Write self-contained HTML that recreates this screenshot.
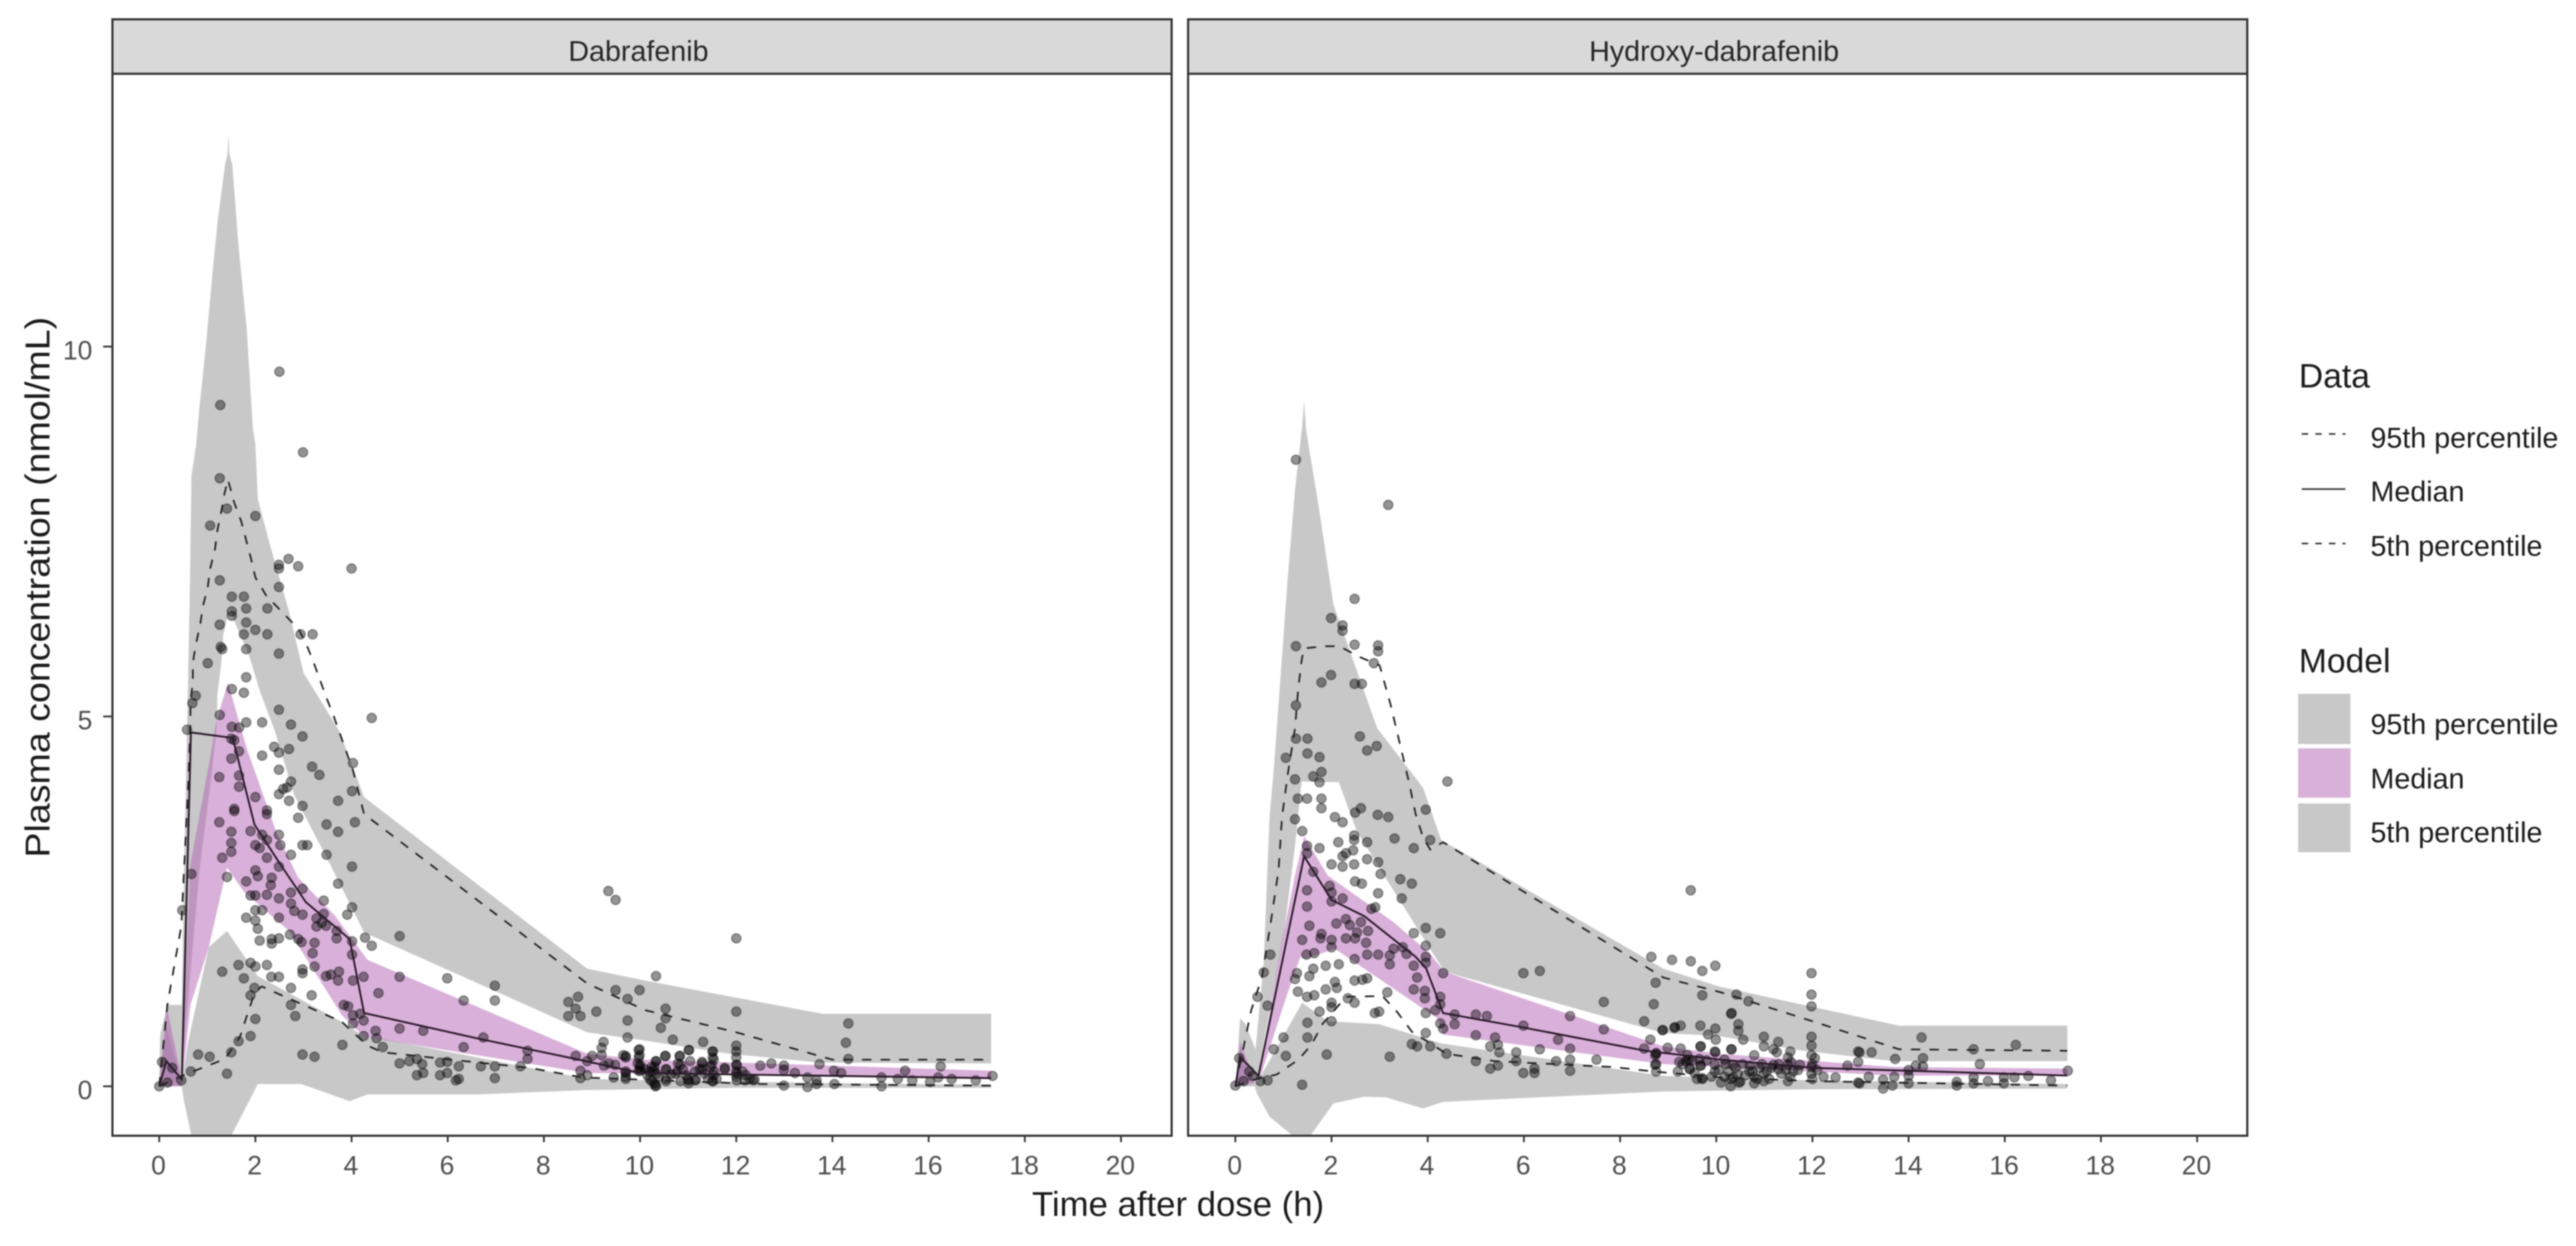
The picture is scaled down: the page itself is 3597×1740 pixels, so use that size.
<!DOCTYPE html>
<html>
<head>
<meta charset="utf-8">
<title>Plasma concentration vs time after dose</title>
<style>
html,body{margin:0;padding:0;background:#fff;}
svg{display:block;filter:blur(0.7px);}
text{font-family:"Liberation Sans",sans-serif;}
</style>
</head>
<body>
<svg id="chart" xmlns="http://www.w3.org/2000/svg" width="3597" height="1740" viewBox="0 0 3597 1740">
  <rect x="0" y="0" width="3597" height="1740" fill="#ffffff"/>
  <defs>
    <clipPath id="clip-dab"><rect x="157" y="103" width="1479" height="1483"/></clipPath>
    <clipPath id="clip-hyd"><rect x="1659" y="103" width="1479" height="1483"/></clipPath>
  </defs>
  <g id="panel-dab"></g>
  <g id="panel-hyd"></g>

  <text transform="translate(69,820) rotate(-90)" text-anchor="middle" font-size="48" textLength="755" lengthAdjust="spacingAndGlyphs" fill="#1a1a1a">Plasma concentration (nmol/mL)</text>
  <text x="1645" y="1698" text-anchor="middle" font-size="48.5" fill="#1a1a1a">Time after dose (h)</text>

  <g>
    <text x="3210" y="541" font-size="47" fill="#1a1a1a">Data</text>
    <line x1="3214" y1="606" x2="3275" y2="606" stroke="#333" stroke-width="2.2" stroke-dasharray="9 10"/>
    <text x="3310" y="625" font-size="40" fill="#1a1a1a">95th percentile</text>
    <line x1="3214" y1="683" x2="3275" y2="683" stroke="#333" stroke-width="2.2"/>
    <text x="3310" y="700" font-size="40" fill="#1a1a1a">Median</text>
    <line x1="3214" y1="759" x2="3275" y2="759" stroke="#333" stroke-width="2.2" stroke-dasharray="9 10"/>
    <text x="3310" y="776" font-size="40" fill="#1a1a1a">5th percentile</text>
  </g>
  <g>
    <text x="3210" y="939" font-size="47" fill="#1a1a1a">Model</text>
    <rect x="3209" y="969" width="73" height="70" fill="#c8c8c8"/>
    <text x="3310" y="1025" font-size="40" fill="#1a1a1a">95th percentile</text>
    <rect x="3209" y="1045" width="73" height="69" fill="#d8b0d8"/>
    <text x="3310" y="1101" font-size="40" fill="#1a1a1a">Median</text>
    <rect x="3209" y="1122" width="73" height="68" fill="#c8c8c8"/>
    <text x="3310" y="1176" font-size="40" fill="#1a1a1a">5th percentile</text>
  </g>
</svg>

<script>
// ---- axis data ----
const xTickValues = [0, 2, 4, 6, 8, 10, 12, 14, 16, 18, 20];
const yTickValues = [0, 5, 10];

// ---- Dabrafenib model ribbons ----
const dabP95HiT = [0, 0.02, 0.17, 0.47, 0.52, 0.58, 0.64, 0.67, 0.77, 0.83, 0.97, 1.11, 1.22, 1.37, 1.42, 1.44, 1.46, 1.52, 1.65, 1.82, 1.95, 2.0, 2.05, 2.3, 2.7, 3.0, 3.74, 4.26, 8.9, 10.1, 13.8, 17.3];
const dabP95HiV = [0, 0.7, 1.1, 1.1, 3, 4.82, 6.81, 8.25, 8.68, 9.13, 10, 11, 11.72, 12.46, 12.6, 12.87, 12.6, 12.46, 11.35, 10.24, 8.88, 8.68, 7.94, 7.33, 6.42, 5.59, 4.81, 3.91, 1.59, 1.43, 0.98, 0.98];
const dabP95LoT = [0, 0.3, 0.47, 0.84, 1.1, 1.19, 1.21, 1.29, 1.33, 1.46, 1.6, 1.86, 2.1, 2.4, 2.81, 3.5, 4.26, 8.9, 10.1, 11.84, 13.75, 17.3];
const dabP95LoV = [0, 0, 0.2, 2.94, 4.27, 4.81, 5.3, 5.71, 6.1, 6.46, 6.23, 5.84, 5.33, 4.81, 3.93, 3.07, 2.08, 0.73, 0.62, 0.44, 0.32, 0.31];

const dabMedHiT = [0, 0.15, 0.47, 0.56, 0.65, 1.06, 1.18, 1.43, 1.7, 1.83, 2.44, 2.89, 3.65, 4.33, 8.9, 10.1, 17.3];
const dabMedHiV = [0, 1.1, 0.09, 1.7, 3.0, 4.45, 4.91, 5.46, 4.84, 4.55, 3.43, 2.82, 2.31, 1.71, 0.44, 0.36, 0.21];
const dabMedLoT = [0, 0.47, 0.65, 1.03, 1.41, 1.76, 2.7, 3.8, 4.26, 8.9, 17.3];
const dabMedLoV = [0, 0, 1.1, 1.88, 2.96, 2.63, 2.1, 0.96, 0.67, 0.18, 0.11];

const dabP5HiT = [0, 0.15, 0.47, 0.6, 1.03, 1.41, 2.05, 3.8, 4.26, 4.65, 8.9, 12, 17.3];
const dabP5HiV = [0, 0.8, 0.05, 0.6, 1.88, 2.1, 1.49, 0.87, 0.67, 0.64, 0.1, 0.06, 0.02];
const dabP5LoT = [0, 0.47, 0.5, 0.66, 1.1, 1.52, 2.05, 2.96, 3.96, 4.33, 6.6, 8.9, 12, 17.3];
const dabP5LoV = [0, 0, -0.15, -0.64, -1.5, -0.64, 0.03, 0.03, -0.2, -0.11, -0.11, -0.05, -0.02, -0.02];

// ---- Dabrafenib observed percentile lines ----
const dabLine95T = [0, 0.17, 0.46, 0.61, 0.65, 0.65, 0.7, 0.7, 0.76, 0.85, 0.91, 1.01, 1.06, 1.16, 1.21, 1.28, 1.36, 1.43, 1.56, 1.71, 1.81, 1.91, 2.0, 2.23, 2.53, 2.9, 3.05, 3.2, 3.34, 3.48, 3.63, 4.03, 4.26, 8.9, 10.1, 12, 14, 17.3];
const dabLine95V = [0, 1.1, 2.17, 4.18, 4.94, 5.2, 5.46, 5.72, 5.97, 6.23, 6.49, 6.75, 7, 7.26, 7.52, 7.73, 8.02, 8.2, 7.89, 7.63, 7.38, 7.13, 6.88, 6.63, 6.43, 6.18, 5.99, 5.75, 5.5, 5.25, 5.0, 4.27, 3.68, 1.39, 1.03, 0.73, 0.36, 0.36];
const dabLineMedT = [0, 0.15, 0.47, 0.66, 0.7, 1.53, 1.98, 2.52, 3.05, 3.96, 4.26, 6.6, 8.8, 10, 12, 17.3];
const dabLineMedV = [0, 0.34, 0.09, 4.78, 4.78, 4.71, 3.54, 3.0, 2.49, 1.99, 0.99, 0.65, 0.35, 0.18, 0.16, 0.11];
const dabLine5T = [0, 0.46, 1.37, 1.68, 1.98, 2.13, 3.8, 4.33, 4.65, 6.2, 7.7, 8.8, 12.5, 17.3];
const dabLine5V = [0, 0.14, 0.37, 0.67, 1.26, 1.35, 0.87, 0.55, 0.46, 0.35, 0.25, 0.12, 0.03, 0.01];

// ---- Dabrafenib observations ----
const dabObsTime = [
1.27,2.5,2.99,1.26,1.41,2.0,1.06,2.69,2.89,2.49,2.49,4.0,1.26,2.49,1.51,1.76,1.81,2.25,1.51,1.51,
1.81,1.26,2.0,1.76,2.25,2.94,3.19,1.28,1.31,1.81,2.49,1.01,1.81,1.51,1.76,0.76,0.69,2.49,1.26,1.81,
2.14,2.74,4.42,0.58,1.51,1.66,
2.98,2.39,2.49,2.7,2.14,1.5,1.56,1.66,1.5,1.25,
1.66,1.66,2.49,3.18,3.33,4.03,2.74,2.66,2.58,2.49,
2.7,2.0,2.24,2.24,1.56,1.56,2.98,3.72,4.01,2.89,
3.48,4.07,3.72,1.25,1.5,1.9,2.14,2.49,2.0,2.09,
2.24,1.5,1.5,2.52,2.98,3.08,3.48,2.74,1.31,2.24,
2.49,4.01,0.67,1.41,2.0,2.05,1.81,2.34,2.32,2.24,
3.72,2.98,2.74,1.9,2.0,2.49,3.42,2.74,4.01,2.0,
2.14,0.48,3.91,2.81,2.98,1.81,2.49,3.42,3.27,2.0,
2.05,3.38,3.27,3.47,3.69,2.72,3.69,5.0,4.28,4.42,
2.09,2.34,2.34,2.49,2.89,2.96,3.23,4.01,4.01,3.19,
0,0.17,0.06,0.27,0.46,0.66,0.81,1.05,1.41,1.5,1.65,1.9,2.0,1.31,1.65,1.76,1.9,2.0,2.24,2.33,
2.49,1.9,1.98,2.74,3.17,2.74,2.83,2.98,3.23,3.81,3.84,3.93,4.03,4.03,4.18,4.25,4.25,4.5,4.52,4.65,
4.56,4.25,4.03,3.72,3.57,3.47,3.74,2.98,2.98,3.23,
5,5.99,6.98,6.98,6.33,5,5.49,6.33,6.74,7.66,
7.66,5,5.2,5.36,5.47,5.36,5.49,5.84,5.99,5.84,
5.99,6.23,6.23,6.17,6.69,6.98,6.98,7.51,
9.34,9.49,12,10.33,9.49,9.99,9.74,8.71,8.51,8.66,
8.76,8.51,9.09,10.53,10.53,10.43,12,9.74,9.74,10.68,
11.31,9.24,9.2,9.99,9.99,11.02,11.51,11.51,12,12,
12,10.53,10.83,9.7,9.2,9.0,8.66,8.9,10.33,12.5,
12.73,9.25,9.35,9.48,8.76,8.9,8.76,9.45,
9.7,9.7,10,10,10.2,10.3,10.34,10.2,10.3,10.33,
10.54,10.54,10.74,10.84,10.99,11.01,11.29,11.29,11.49,11.54,
11.59,12,12,12,12.13,12.28,12.38,11.76,11.16,10.84,11.51,
14.33,14.28,14.33,13.73,14.03,14.18,12.99,12.99,12.99,13.22,
13.48,13.48,13.67,13.67,15.02,15.02,15.36,15.51,15.66,16.03,
16.2,16.25,16.48,16.98,17.33,14.04,
9.7,9.65,9.97,9.97,10.0,9.97,9.7,9.7,10.15,10.29,
10.33,10.32,10.24,10.52,10.54,10.54,10.82,10.79,10.77,11.01,
11.04,11.01,10.96,11.14,11.29,11.24,11.34,11.51,11.53,11.46,
11.53,11.51,11.76,12.01,12.01,12.01,12.2,12.18,12.35,
10.1,10.39,10.64,10.89,11.14,11.41,9.95,10.24];
const dabObsConc = [
9.21,9.66,8.57,8.22,7.81,7.71,7.58,7.13,7.03,7.0,7.05,7.0,6.84,6.75,6.62,6.62,6.46,6.46,6.42,6.36,
6.27,6.24,6.17,6.11,6.11,6.11,6.11,5.94,5.91,5.91,5.85,5.72,5.53,5.37,5.32,5.28,5.18,5.09,5.02,4.92,
4.92,4.89,4.98,4.82,4.86,4.85,
4.73,4.59,4.51,4.56,4.47,4.7,4.68,4.53,4.43,4.18,
4.2,4.05,4.28,4.32,4.21,4.37,4.12,4.04,4.02,3.95,
3.86,3.91,3.73,3.68,3.75,3.72,3.79,3.86,3.99,3.63,
3.54,3.57,3.44,3.57,3.44,3.45,3.4,3.4,3.26,3.22,
3.33,3.29,3.17,3.26,3.26,3.26,3.13,3.13,3.09,3.09,
2.97,2.97,2.87,2.83,2.92,2.84,2.77,2.82,2.72,2.59,
2.74,2.67,2.62,2.58,2.58,2.54,2.51,2.47,2.42,2.38,
2.38,2.38,2.32,2.37,2.32,2.28,2.28,2.33,2.27,2.24,
2.13,2.21,2.16,2.17,2.1,2.05,2.0,2.03,2.01,1.9,
1.97,1.99,1.93,2.0,1.99,1.95,1.94,1.96,1.78,1.8,
0,0.05,0.33,0.25,0.08,0.2,0.43,0.4,0.17,0.46,0.61,0.68,0.91,1.55,1.64,1.46,1.67,1.62,1.64,1.48,
1.48,1.23,1.33,1.33,1.23,1.1,0.95,0.43,0.4,0.56,1.1,1.08,0.96,0.85,0.98,0.89,0.68,0.75,0.65,0.53,
1.26,1.48,1.43,1.43,1.51,1.49,1.55,1.58,1.53,1.62,
1.48,1.46,1.36,1.16,1.16,0.78,0.75,0.53,0.66,0.48,
0.37,0.31,0.34,0.37,0.3,0.15,0.18,0.32,0.33,0.15,
0.18,0.27,0.1,0.08,0.27,0.27,0.11,0.27,
2.64,2.52,2.0,1.49,1.3,1.3,1.18,1.21,1.14,1.05,
0.95,0.95,1.01,1.05,0.92,0.79,1.01,0.89,0.66,0.63,
0.6,0.6,0.52,0.5,0.42,0.49,0.47,0.39,0.55,0.47,
0.39,0.41,0.41,0.41,0.42,0.41,0.41,0.34,0.34,0.28,
0.31,0.28,0.31,0.29,0.21,0.15,0.11,0.12,
0.2,0.13,0.29,0.21,0.2,0.26,0.17,0.1,0.04,0.01,
0.23,0.1,0.17,0.29,0.1,0.04,0.33,0.23,0.29,0.2,
0.1,0.29,0.2,0.13,0.2,0.1,0.09,0.23,0.09,0.07,0.07,
0.85,0.59,0.37,0.3,0.21,0.18,0.28,0.22,0.01,0.18,
0.12,-0.01,0.08,0.03,0.12,0,0.1,0.21,0.08,0.06,
0.12,0.27,0.1,0.08,0.14,0.03,
0.39,0.42,0.49,0.39,0.26,0.21,0.18,0.1,0.15,0.21,
0.34,0,0.07,0.41,0.23,0.07,0.41,0.31,0.2,0.49,
0.34,0.08,0.15,0.08,0.31,0.23,0.17,0.47,0.36,0.26,
0.15,0.07,0.25,0.29,0.17,0.08,0.15,0.08,0.08,
0.23,0.13,0.16,0.23,0.2,0.1,0.31,0.26];

// ---- Hydroxy-dabrafenib model ribbons ----
const hydP95HiT = [0, 0.1, 0.2, 0.42, 0.59, 0.71, 0.8, 1.09, 1.24, 1.39, 1.43, 1.47, 1.74, 2.04, 2.95, 3.9, 4.28, 8.9, 10.05, 13.8, 17.3];
const hydP95HiV = [0, 0.92, 0.85, 0.5, 1.67, 3.64, 4.29, 6.88, 8.07, 8.92, 9.27, 8.88, 7.81, 6.51, 4.84, 4.04, 3.33, 1.59, 1.35, 0.82, 0.82];
const hydP95LoT = [0, 0.45, 1.01, 1.24, 1.35, 1.38, 2.15, 2.53, 3.21, 3.97, 4.35, 8.9, 10.05, 11.8, 13.7, 17.3];
const hydP95LoV = [0, 0.1, 2.06, 3.25, 3.96, 4.12, 4.11, 3.44, 2.73, 1.94, 1.55, 0.72, 0.68, 0.48, 0.34, 0.34];

const hydMedHiT = [0, 0.1, 0.42, 0.48, 0.93, 1.24, 1.43, 1.92, 3.29, 4.05, 4.35, 8.9, 10.05, 13.7, 17.3];
const hydMedHiV = [0, 0.6, 0.02, 0.08, 1.83, 2.85, 3.38, 2.85, 2.22, 1.79, 1.55, 0.54, 0.44, 0.26, 0.24];
const hydMedLoT = [0, 0.48, 1.09, 1.35, 1.45, 2.07, 4.2, 4.32, 8.9, 13.7, 17.3];
const hydMedLoV = [0, 0.05, 1.27, 1.75, 1.72, 1.86, 0.92, 0.7, 0.3, 0.145, 0.145];

const hydP5HiT = [0, 0.1, 0.42, 0.8, 1.39, 1.92, 2.99, 4.28, 8.9, 12, 17.3];
const hydP5HiV = [0, 0.5, 0.02, 0.45, 1.13, 0.88, 0.84, 0.58, 0.14, 0.08, 0.03];
const hydP5LoT = [0, 0.4, 0.45, 0.71, 1.16, 1.37, 1.58, 2.04, 2.68, 3.14, 3.9, 4.32, 8.9, 12, 17.3];
const hydP5LoV = [0, 0, -0.1, -0.41, -0.65, -0.75, -0.65, -0.23, -0.14, -0.15, -0.3, -0.21, -0.07, -0.04, -0.03];

// ---- Hydroxy-dabrafenib observed percentile lines ----
const hydLine95T = [0, 0.33, 0.55, 0.72, 0.9, 0.97, 1.09, 1.24, 1.31, 1.38, 1.43, 1.85, 2.16, 2.6, 3.0, 3.22, 3.41, 3.6, 3.75, 3.9, 4.05, 4.32, 8.9, 10.1, 12, 13.8, 17.3];
const hydLine95V = [0, 1.03, 1.47, 2.14, 2.93, 3.64, 4.22, 4.84, 5.4, 5.77, 5.92, 5.95, 5.95, 5.8, 5.69, 5.18, 4.66, 4.14, 3.68, 3.37, 3.2, 3.3, 1.47, 1.27, 0.88, 0.5, 0.48];
const hydLineMedT = [0, 0.1, 0.48, 1.43, 2.0, 2.68, 3.75, 3.97, 4.32, 5.95, 8.53, 10.1, 12, 17.3];
const hydLineMedV = [0, 0.4, 0.14, 3.11, 2.52, 2.3, 1.75, 1.59, 0.99, 0.8, 0.48, 0.36, 0.25, 0.145];
const hydLine5T = [0, 0.45, 0.86, 1.31, 1.58, 1.81, 2.3, 3.06, 3.37, 3.67, 4.39, 5.4, 7.85, 8.7, 9.4, 10, 12, 17.3];
const hydLine5V = [0, 0.1, 0.16, 0.36, 0.56, 0.84, 1.21, 1.22, 1.0, 0.74, 0.44, 0.34, 0.26, 0.2, 0.16, 0.125, 0.07, 0.01];

// ---- Hydroxy-dabrafenib observations ----
const hydObsTime = [
1.26,3.18,2.48,1.99,2.23,2.23,1.26,2.48,2.97,2.97,
2.88,1.99,1.79,2.48,2.63,1.26,1.26,1.5,2.59,2.94,
2.74,1.5,1.75,1.05,1.79,1.62,1.24,1.75,4.41,
1.3,1.49,1.79,1.79,2.61,2.49,2.07,2.23,2.96,3.18,
3.96,1.24,1.39,2.47,2.47,2.74,3.31,4.05,2.14,1.75,
3.71,1.49,1.49,2.45,2.3,2.23,2.74,2.97,2.0,2.23,
2.47,1.62,3.02,3.43,3.67,2.49,2.63,1.96,2.0,1.49,
2.97,3.46,2.23,2.0,1.49,2.91,2.83,2.3,2.38,2.61,
1.54,2.1,3.71,3.96,4.26,2.53,2.76,1.79,1.39,1.77,
2.0,2.0,2.3,2.49,2.72,3.96,3.48,3.29,3.56,0.73,
1.48,1.64,2.15,1.88,2.48,2.74,2.97,3.21,3.21,3.71,
3.96,3.96,0.59,4.32,1.62,1.54,1.28,1.24,5.99,6.33,
3.78,3.71,2.48,2.64,2.74,2.07,1.88,2.11,1.3,1.49,
1.64,0.46,3.94,3.94,3.16,2.34,2.48,2.0,2.0,0.67,
4.26,4.26,7.66,1.75,2.9,2.99,3.96,4.16,4.56,5,
5.23,6.96,2.0,1.5,4.26,4.32,4.56,5.99,7.66,3.96,
5,1.0,1.5,5.4,6.71,3.67,3.78,4.05,5.3,5.46,
0.8,6.96,6.33,5.49,5.84,4.39,1.05,1.9,3.21,6.96,
7.51,5,5.84,6.67,5.46,5.3,6.22,6.22,5.99,6.96,
1.39,0,0.17,0.52,0.67,0.08,0.29,0.36,
8.65,9.08,9.47,9.71,9.98,9.47,8.74,8.7,9.71,8.5,
8.89,9.14,9.26,8.63,8.5,8.99,9.26,8.75,8.75,9.67,
9.98,9.83,9.99,10.32,9.67,9.98,10.32,9.71,9.37,9.67,9.45,
10.42,10.67,10.31,11.98,11.98,11.98,10.46,10.46,10.56,10.99,
10.99,11.29,11.19,11.26,11.54,11.49,11.98,11.98,11.98,10.79,
10.31,9.97,9.68,9.13,8.88,
8.73,8.73,9.23,9.43,9.45,9.68,9.97,9.97,10.17,10.17,
10.3,10.35,10.45,10.47,10.69,10.79,10.99,10.99,10.79,11.19,
11.29,11.49,11.54,11.74,11.98,11.98,12.23,12.48,12.95,12.95,
12.95,12.73,9.71,11.49,
12.98,13.23,13.72,14.27,14.3,14.3,14.15,15.35,15.48,16.23,
17.31,14,14,14,13.47,13.47,13.7,13.66,13.17,12.98,
15,15,15.35,15.35,15.65,15.98,15.98,16.2,16.49,16.96,
10.2,10.25,10.3,10.4,10.35,10.55,10.6,10.5,10.7,10.75,
10.9,10.85,10.95,11.05,11.1,11.15,11.3,11.35,11.45,11.6,
11.55,11.7,12.0,12.0,12.1,9.4,9.3,9.5,9.55,9.6,
9.65,9.8,9.9,10.05,10.1,8.75,8.75,9.2,12.05];
const hydObsConc = [
8.47,7.86,6.59,6.33,6.23,6.16,5.95,5.97,5.96,5.88,
5.72,5.56,5.46,5.44,5.44,5.15,4.7,4.7,4.73,4.6,
4.54,4.5,4.45,4.44,4.25,4.19,4.15,4.11,4.12,
3.89,3.89,3.89,3.76,3.76,3.7,3.64,3.57,3.67,3.64,
3.74,3.61,3.45,3.39,3.33,3.3,3.35,3.33,3.3,3.22,
3.22,3.25,3.15,3.19,3.15,3.11,3.07,3.03,3.0,2.97,
3.0,2.9,2.87,2.8,2.74,2.77,2.74,2.71,2.62,2.65,
2.61,2.54,2.54,2.5,2.43,2.42,2.4,2.26,2.18,2.22,
2.17,2.2,2.07,2.14,2.07,2.08,2.1,2.06,1.98,2.0,
1.98,1.88,2.0,2.0,1.94,1.9,1.88,1.86,1.79,1.78,
1.78,1.8,1.65,1.63,1.72,1.78,1.78,1.77,1.65,1.63,
1.75,1.67,1.54,1.53,1.59,1.49,1.53,1.45,1.53,1.56,
1.47,1.31,1.43,1.44,1.46,1.41,1.31,1.33,1.28,1.21,
1.23,1.21,1.29,1.19,1.27,1.19,1.13,1.13,1.07,1.09,
1.21,1.11,1.14,1.01,0.99,1.01,0.99,1.03,0.97,0.97,
0.95,0.95,0.88,0.86,0.85,0.78,0.84,0.82,0.77,0.72,
0.69,0.66,0.66,0.66,0.63,0.57,0.54,0.54,0.54,0.56,
0.5,0.51,0.5,0.46,0.46,0.44,0.41,0.43,0.4,0.36,
0.36,0.34,0.34,0.34,0.28,0.24,0.24,0.18,0.18,0.21,
0.02,0.01,0.07,0.07,0.08,0.38,0.2,0.14,
1.75,1.71,1.69,1.56,1.63,2.65,1.4,1.11,1.23,0.88,
0.76,0.8,0.82,0.63,0.51,0.52,0.51,0.44,0.3,0.82,
0.78,0.7,0.63,0.99,0.54,0.46,0.5,0.1,0.34,0.28,0.24,
1.24,1.15,0.98,1.53,1.24,1.08,0.84,0.75,0.63,0.67,
0.54,0.6,0.5,0.46,0.47,0.39,0.67,0.55,0.42,0.42,
0.5,0.47,0.54,0.79,0.76,
0.42,0.29,0.33,0.36,0.23,0.28,0.29,0.2,0.36,0.13,
0,0.29,0.17,0.05,0.2,0.13,0.17,0.07,0.04,0.29,
0.23,0.29,0.13,0.29,0.26,0.17,0.13,0.12,0.47,0.33,
0.05,0.28,0.11,0.07,
0.46,0.46,0.37,0.66,0.38,0.27,0.28,0.5,0.3,0.56,
0.21,0.22,0.14,0.04,0.09,-0.03,0.13,0.01,0.13,0.04,
0.06,0.01,0.12,0.04,0.07,0.12,0.04,0.12,0.14,0.08,
0.3,0.2,0.1,0.25,0.12,0.3,0.15,0.06,0.28,0.2,
0.25,0.1,0.3,0.2,0.1,0.25,0.3,0.17,0.22,0.2,
0.33,0.22,0.3,0.1,0.22,0.42,0.3,0.35,0.18,0.1,
0.37,0.35,0.13,0.22,0.05,0.2,0.45,0.2,0.38];

// ---- scales and drawing ----
const SVGNS = 'http://www.w3.org/2000/svg';
const PANEL_TOP = 103;
const PANEL_BOTTOM = 1586;
const STRIP_TOP = 27;
const PX_PER_HOUR = 67.15;
const PX_PER_UNIT = 103.3;
const Y_ZERO = 1517;

function yScale(v) { return Y_ZERO - v * PX_PER_UNIT; }
function makeXScale(x0) { return function (t) { return x0 + t * PX_PER_HOUR; }; }
function pathFrom(ts, vs, xs) {
  let d = '';
  for (let i = 0; i < ts.length; i++) {
    d += (i ? 'L' : 'M') + xs(ts[i]).toFixed(1) + ' ' + yScale(vs[i]).toFixed(1);
  }
  return d;
}
function ribbonPath(hiT, hiV, loT, loV, xs) {
  let d = pathFrom(hiT, hiV, xs);
  for (let i = loT.length - 1; i >= 0; i--) {
    d += 'L' + xs(loT[i]).toFixed(1) + ' ' + yScale(loV[i]).toFixed(1);
  }
  return d + 'Z';
}
function el(tag, parent) {
  const e = document.createElementNS(SVGNS, tag);
  parent.appendChild(e);
  return e;
}

function drawPanel(cfg) {
  const root = document.getElementById(cfg.rootId);
  const xs = makeXScale(cfg.xZero);
  const width = cfg.right - cfg.left;

  const strip = el('rect', root);
  
  
  strip.setAttribute('x', cfg.left);
  strip.setAttribute('y', STRIP_TOP);
  strip.setAttribute('width', width);
  strip.setAttribute('height', PANEL_TOP - STRIP_TOP);
  strip.setAttribute('fill', '#d9d9d9');
  strip.setAttribute('stroke', '#333333');
  strip.setAttribute('stroke-width', '3');

  const stripText = el('text', root);
  
  
  stripText.setAttribute('x', (cfg.left + cfg.right) / 2 - 5);
  stripText.setAttribute('y', 85);
  stripText.setAttribute('text-anchor', 'middle');
  stripText.setAttribute('font-size', '40');
  stripText.setAttribute('fill', '#262626');
  stripText.textContent = cfg.title;

  const plot = el('g', root);
  
  
  plot.setAttribute('clip-path', 'url(#' + cfg.clipId + ')');

  const r95 = el('path', plot);
  
  
  r95.setAttribute('d', ribbonPath(cfg.p95HiT, cfg.p95HiV, cfg.p95LoT, cfg.p95LoV, xs));
  r95.setAttribute('fill', '#919191');
  r95.setAttribute('fill-opacity', '0.5');

  const r5 = el('path', plot);
  
  
  r5.setAttribute('d', ribbonPath(cfg.p5HiT, cfg.p5HiV, cfg.p5LoT, cfg.p5LoV, xs));
  r5.setAttribute('fill', '#919191');
  r5.setAttribute('fill-opacity', '0.5');

  const rMed = el('path', plot);
  
  
  rMed.setAttribute('d', ribbonPath(cfg.medHiT, cfg.medHiV, cfg.medLoT, cfg.medLoV, xs));
  rMed.setAttribute('fill', '#b361b3');
  rMed.setAttribute('fill-opacity', '0.5');

  const n = Math.min(cfg.obsT.length, cfg.obsC.length);
  for (let i = 0; i < n; i++) {
    const c = el('circle', plot);
    
    
    c.setAttribute('cx', xs(cfg.obsT[i]).toFixed(1));
    c.setAttribute('cy', yScale(cfg.obsC[i]).toFixed(1));
    c.setAttribute('r', '6.5');
    c.setAttribute('fill', '#000000');
    c.setAttribute('fill-opacity', '0.42');
    c.setAttribute('stroke', '#000000');
    c.setAttribute('stroke-opacity', '0.4');
    c.setAttribute('stroke-width', '1.6');
  }

  const l95 = el('path', plot);
  
  
  l95.setAttribute('d', pathFrom(cfg.l95T, cfg.l95V, xs));
  l95.setAttribute('fill', 'none');
  l95.setAttribute('stroke', '#222222');
  l95.setAttribute('stroke-width', '2.4');
  l95.setAttribute('stroke-dasharray', '13 13');

  const lMed = el('path', plot);
  
  
  lMed.setAttribute('d', pathFrom(cfg.lMedT, cfg.lMedV, xs));
  lMed.setAttribute('fill', 'none');
  lMed.setAttribute('stroke', '#2a1a2a');
  lMed.setAttribute('stroke-width', '2.6');

  const l5 = el('path', plot);
  
  
  l5.setAttribute('d', pathFrom(cfg.l5T, cfg.l5V, xs));
  l5.setAttribute('fill', 'none');
  l5.setAttribute('stroke', '#222222');
  l5.setAttribute('stroke-width', '2.4');
  l5.setAttribute('stroke-dasharray', '13 13');

  const border = el('rect', root);
  
  
  border.setAttribute('x', cfg.left);
  border.setAttribute('y', PANEL_TOP);
  border.setAttribute('width', width);
  border.setAttribute('height', PANEL_BOTTOM - PANEL_TOP);
  border.setAttribute('fill', 'none');
  border.setAttribute('stroke', '#333333');
  border.setAttribute('stroke-width', '3');

  xTickValues.forEach(function (t) {
    const tick = el('line', root);
    
    
    tick.setAttribute('x1', xs(t));
    tick.setAttribute('x2', xs(t));
    tick.setAttribute('y1', PANEL_BOTTOM);
    tick.setAttribute('y2', PANEL_BOTTOM + 9);
    tick.setAttribute('stroke', '#333333');
    tick.setAttribute('stroke-width', '2.5');
    const lab = el('text', root);
    
    
    lab.setAttribute('x', xs(t) - 1);
    lab.setAttribute('y', 1640);
    lab.setAttribute('text-anchor', 'middle');
    lab.setAttribute('font-size', '37');
    lab.setAttribute('fill', '#4d4d4d');
    lab.textContent = String(t);
  });

  if (cfg.showY) {
    yTickValues.forEach(function (v) {
      const tick = el('line', root);
      
      
      tick.setAttribute('x1', cfg.left - 13);
      tick.setAttribute('x2', cfg.left);
      tick.setAttribute('y1', yScale(v));
      tick.setAttribute('y2', yScale(v));
      tick.setAttribute('stroke', '#333333');
      tick.setAttribute('stroke-width', '2.5');
      const lab = el('text', root);
      
      
      lab.setAttribute('x', 129);
      lab.setAttribute('y', yScale(v) + 18);
      lab.setAttribute('text-anchor', 'end');
      lab.setAttribute('font-size', '37');
      lab.setAttribute('fill', '#4d4d4d');
      lab.textContent = String(v);
    });
  }
}

drawPanel({
  rootId: 'panel-dab', clipId: 'clip-dab', title: 'Dabrafenib', left: 157, right: 1636, xZero: 222.3, showY: true,
  p95HiT: dabP95HiT, p95HiV: dabP95HiV, p95LoT: dabP95LoT, p95LoV: dabP95LoV,
  medHiT: dabMedHiT, medHiV: dabMedHiV, medLoT: dabMedLoT, medLoV: dabMedLoV,
  p5HiT: dabP5HiT, p5HiV: dabP5HiV, p5LoT: dabP5LoT, p5LoV: dabP5LoV,
  l95T: dabLine95T, l95V: dabLine95V, lMedT: dabLineMedT, lMedV: dabLineMedV, l5T: dabLine5T, l5V: dabLine5V,
  obsT: dabObsTime, obsC: dabObsConc
});
drawPanel({
  rootId: 'panel-hyd', clipId: 'clip-hyd', title: 'Hydroxy-dabrafenib', left: 1659, right: 3138, xZero: 1725, showY: false,
  p95HiT: hydP95HiT, p95HiV: hydP95HiV, p95LoT: hydP95LoT, p95LoV: hydP95LoV,
  medHiT: hydMedHiT, medHiV: hydMedHiV, medLoT: hydMedLoT, medLoV: hydMedLoV,
  p5HiT: hydP5HiT, p5HiV: hydP5HiV, p5LoT: hydP5LoT, p5LoV: hydP5LoV,
  l95T: hydLine95T, l95V: hydLine95V, lMedT: hydLineMedT, lMedV: hydLineMedV, l5T: hydLine5T, l5V: hydLine5V,
  obsT: hydObsTime, obsC: hydObsConc
});
</script>
</body>
</html>
